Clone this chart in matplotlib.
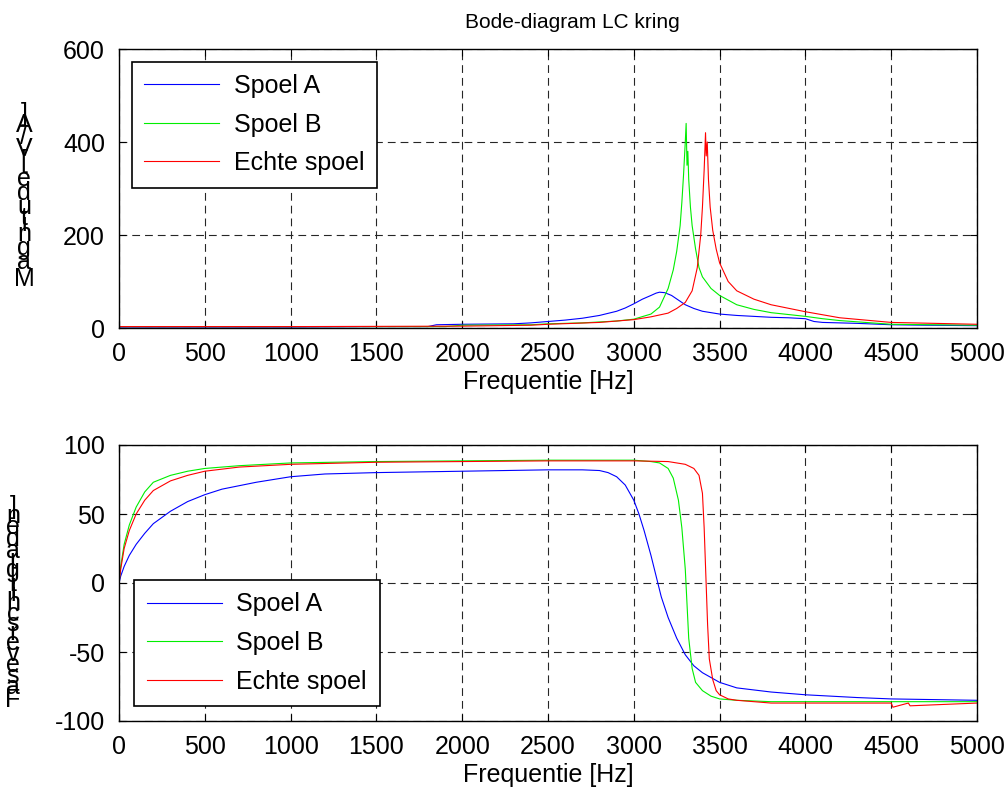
import numpy as np
import matplotlib
matplotlib.use('Agg')
import matplotlib.pyplot as plt
from matplotlib.font_manager import FontProperties
from matplotlib.textpath import TextToPath

plt.rcParams['font.family'] = ['Liberation Sans', 'DejaVu Sans']
plt.rcParams['axes.unicode_minus'] = False

# Magnitude data [V/A]
f_mag_a = [0, 500, 1000, 1500, 1800, 1850, 2000, 2300, 2400, 2500, 2600, 2700, 2800, 2900, 2950,
           3000, 3050, 3100, 3130, 3150, 3180, 3220, 3260, 3300, 3350, 3400, 3500, 3600, 3700,
           3800, 3900, 4000, 4050, 4100, 4300, 4500, 4700, 5000]
mag_a = [2, 2, 2, 3, 3, 7, 8, 9, 11, 14, 17, 21, 27, 36, 43,
         52, 62, 70, 75, 77, 76, 70, 60, 50, 42, 36, 30, 27, 25,
         23, 22, 20, 14, 12, 10, 7, 6, 5]

f_mag_b = [0, 1000, 1900, 2000, 2400, 2500, 2700, 2900, 3000, 3100, 3150, 3200, 3230, 3250, 3270,
           3280, 3290, 3300, 3305, 3310, 3315, 3320, 3330, 3340, 3360, 3380, 3400, 3450, 3500,
           3600, 3700, 3800, 4000, 4100, 4200, 4500, 5000]
mag_b = [3, 3, 3, 6, 7, 9, 11, 15, 19, 30, 45, 85, 125, 165, 220,
         270, 330, 400, 440, 350, 380, 320, 260, 220, 170, 130, 110, 85, 70,
         50, 40, 33, 25, 20, 16, 8, 6]

f_mag_e = [0, 1000, 2000, 2400, 2500, 2800, 3000, 3100, 3200, 3250, 3300, 3340, 3370, 3390, 3400,
           3410, 3418, 3422, 3428, 3435, 3445, 3460, 3480, 3500, 3550, 3600, 3700, 3800, 4000,
           4200, 4500, 5000]
mag_e = [3, 3, 4, 6, 8, 12, 18, 24, 32, 42, 55, 80, 130, 200, 260,
         340, 420, 370, 400, 320, 260, 210, 170, 140, 100, 80, 62, 50, 35,
         22, 12, 8]

# Phase data [graden]
f_ph_a = [0, 10, 30, 60, 100, 150, 200, 300, 400, 500, 600, 800, 1000, 1200, 1500, 2000, 2500,
          2700, 2800, 2850, 2900, 2950, 3000, 3030, 3060, 3100, 3130, 3160, 3200, 3250, 3300,
          3350, 3400, 3500, 3600, 3800, 4000, 4300, 4500, 5000]
ph_a = [0, 5, 12, 20, 28, 36, 43, 52, 59, 64, 68, 73, 77, 79, 80, 81, 82,
        82, 81.5, 80, 77, 71, 60, 50, 38, 20, 5, -10, -25, -40, -52,
        -60, -65, -72, -76, -79, -81, -83, -84, -85]

f_ph_b = [0, 10, 30, 60, 100, 150, 200, 300, 400, 500, 700, 1000, 1500, 2000, 2500, 3000, 3100,
          3150, 3200, 3230, 3260, 3280, 3300, 3310, 3320, 3340, 3360, 3400, 3450, 3500, 3600,
          3800, 4000, 5000]
ph_b = [0, 12, 28, 42, 55, 66, 73, 78, 81, 83, 85, 87, 88, 88.5, 89, 89, 88,
        87, 83, 76, 60, 40, 10, -15, -40, -62, -72, -78, -82, -84, -85,
        -86, -86, -86]

f_ph_e = [0, 10, 30, 60, 100, 150, 200, 300, 400, 500, 700, 1000, 1500, 2000, 2500, 3000, 3200,
          3300, 3350, 3380, 3400, 3410, 3420, 3430, 3440, 3460, 3480, 3500, 3550, 3600, 3700,
          3800, 4400, 4500, 4510, 4600, 4610, 5000]
ph_e = [0, 10, 25, 38, 50, 60, 67, 74, 78, 81, 84, 86, 87.5, 88, 88.5, 88.5, 88,
        86, 83, 78, 65, 40, 5, -30, -55, -70, -78, -81, -84, -85, -86,
        -87, -87, -87, -90, -87, -89, -87]

labels = ['Spoel A', 'Spoel B', 'Echte spoel']
colors = ['#0000ff', '#00ee00', '#ff0000']
xticks = [0, 500, 1000, 1500, 2000, 2500, 3000, 3500, 4000, 4500, 5000]

W, H = 1006, 791
FS = 18


def style_axes(ax):
    ax.set_xlim(0, 5000)
    ax.set_xticks(xticks)
    ax.tick_params(direction='in', top=True, right=True, length=5, labelsize=FS, pad=10)
    ax.grid(True, color='0.15', linestyle=(0, (7, 4.5)), linewidth=0.8)
    for s in ax.spines.values():
        s.set_linewidth(1.0)
    ax.set_xlabel('Frequentie [Hz]', fontsize=FS, labelpad=3)


def stacked_label(fig, text, x_px, y_bot, y_top, fontsize):
    # MATLAB drew the rotated label with upright, stacked glyphs
    prop = FontProperties(family='Liberation Sans', size=fontsize)
    ttp = TextToPath()
    widths = []
    for c in text:
        w = ttp.get_text_width_height_descent(c, prop, ismath=False)[0]
        widths.append(w if w > 0 else fontsize * 0.28)
    total = sum(widths)
    cum = 0
    for c, w in zip(text, widths):
        y = y_bot + (cum + w / 2) / total * (y_top - y_bot)
        fig.text(x_px / W, 1 - y / H, c, ha='center', va='center', fontsize=fontsize)
        cum += w


def make_legend(ax, loc, pad):
    leg = ax.legend(loc=loc, fontsize=FS, fancybox=False, framealpha=1, edgecolor='k',
                    handlelength=3.0, handletextpad=0.6, labelspacing=0.58,
                    borderpad=0.5, borderaxespad=pad)
    leg.get_frame().set_linewidth(1.2)
    return leg


fig = plt.figure(figsize=(W / 100, H / 100), dpi=100)
ax1 = fig.add_axes([119 / W, 1 - 328 / H, 858 / W, 279 / H])
ax2 = fig.add_axes([119 / W, 1 - 721 / H, 858 / W, 276 / H])

for f, m, lab, col in zip([f_mag_a, f_mag_b, f_mag_e], [mag_a, mag_b, mag_e], labels, colors):
    ax1.plot(f, m, color=col, linewidth=0.8, label=lab)
ax1.set_ylim(0, 600)
ax1.set_yticks([0, 200, 400, 600])
style_axes(ax1)
make_legend(ax1, 'upper left', 0.5)

for f, p, lab, col in zip([f_ph_a, f_ph_b, f_ph_e], [ph_a, ph_b, ph_e], labels, colors):
    ax2.plot(f, p, color=col, linewidth=0.8, label=lab)
ax2.set_ylim(-100, 100)
ax2.set_yticks([-100, -50, 0, 50, 100])
style_axes(ax2)
make_legend(ax2, 'lower left', 0.6)

fig.text(572 / W, 1 - 22 / H, 'Bode-diagram LC kring', fontsize=15, ha='center', va='center')

stacked_label(fig, 'Magnitude [V/A]', 24, 290, 110, FS)
stacked_label(fig, 'Faseverschil [graden]', 13, 706, 504, FS)

fig.savefig('out.png', dpi=100)
